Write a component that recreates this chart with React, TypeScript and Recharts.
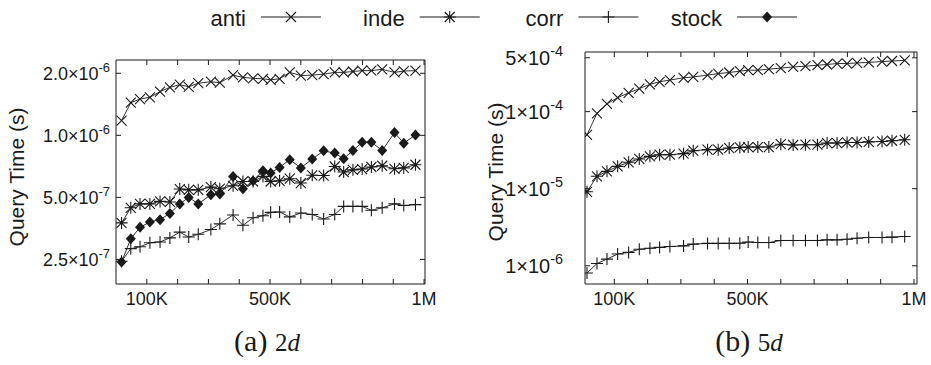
import React from "react";
import { LineChart, Line, XAxis, YAxis } from "recharts";

// dataset sizes (in thousands of objects)
const sizesK = [
  18, 48, 78, 110, 143, 175, 207, 236, 267, 308, 337, 380, 412, 445, 477,
  502, 531, 564, 600, 637, 674, 710, 739, 769, 799, 829, 864, 904, 934, 972,
];

// (a) 2d query times, seconds
const anti2d = [
  1.18e-6, 1.44e-6, 1.5e-6, 1.53e-6, 1.63e-6, 1.71e-6, 1.76e-6, 1.72e-6, 1.79e-6, 1.82e-6,
  1.8e-6, 1.96e-6, 1.91e-6, 1.89e-6, 1.88e-6, 1.86e-6, 1.88e-6, 2.02e-6, 1.95e-6, 1.96e-6,
  1.98e-6, 2.02e-6, 2.02e-6, 2.04e-6, 2.06e-6, 2.06e-6, 2.09e-6, 2.02e-6, 2.05e-6, 2.06e-6,
];
const inde2d = [
  3.76e-7, 4.45e-7, 4.65e-7, 4.65e-7, 4.78e-7, 4.75e-7, 5.49e-7, 5.44e-7, 5.44e-7, 5.61e-7,
  5.51e-7, 5.69e-7, 5.97e-7, 5.97e-7, 6.32e-7, 5.97e-7, 6.02e-7, 6.16e-7, 5.87e-7, 6.4e-7,
  6.38e-7, 7.06e-7, 6.64e-7, 6.8e-7, 6.86e-7, 7.02e-7, 7.12e-7, 6.88e-7, 6.95e-7, 7.2e-7,
];
const corr2d = [
  2.45e-7, 2.82e-7, 2.88e-7, 3.01e-7, 3.04e-7, 3.18e-7, 3.39e-7, 3.21e-7, 3.31e-7, 3.49e-7,
  3.72e-7, 4.11e-7, 3.66e-7, 3.98e-7, 4.07e-7, 4.23e-7, 4.25e-7, 4.02e-7, 4.2e-7, 4.13e-7,
  3.93e-7, 4.13e-7, 4.52e-7, 4.52e-7, 4.52e-7, 4.33e-7, 4.45e-7, 4.65e-7, 4.57e-7, 4.61e-7,
];
const stock2d = [
  2.43e-7, 3.15e-7, 3.58e-7, 3.8e-7, 3.9e-7, 4.18e-7, 4.65e-7, 5.0e-7, 4.65e-7, 5.15e-7,
  5.19e-7, 6.32e-7, 5.51e-7, 6.02e-7, 6.74e-7, 6.57e-7, 6.99e-7, 7.62e-7, 6.95e-7, 7.67e-7,
  8.41e-7, 8.2e-7, 7.7e-7, 8.44e-7, 9.26e-7, 9.26e-7, 8.44e-7, 1.031e-6, 9.16e-7, 1.005e-6,
];

// (b) 5d query times, seconds
const anti5d = [
  5.0e-5, 9.5e-5, 1.26e-4, 1.52e-4, 1.75e-4, 1.99e-4, 2.26e-4, 2.44e-4, 2.57e-4, 2.75e-4,
  2.82e-4, 2.98e-4, 3.12e-4, 3.22e-4, 3.35e-4, 3.45e-4, 3.45e-4, 3.56e-4, 3.67e-4, 3.8e-4,
  3.89e-4, 4.0e-4, 4.09e-4, 4.21e-4, 4.21e-4, 4.29e-4, 4.35e-4, 4.47e-4, 4.54e-4, 4.62e-4,
];
const inde5d = [
  9.12e-6, 1.45e-5, 1.68e-5, 1.95e-5, 2.2e-5, 2.43e-5, 2.63e-5, 2.76e-5, 2.76e-5, 2.85e-5,
  3.11e-5, 3.21e-5, 3.21e-5, 3.37e-5, 3.43e-5, 3.47e-5, 3.47e-5, 3.47e-5, 3.78e-5, 3.69e-5,
  3.72e-5, 3.72e-5, 3.91e-5, 3.91e-5, 3.98e-5, 3.98e-5, 4.05e-5, 4.1e-5, 4.19e-5, 4.31e-5,
];
const corr5d = [
  8.05e-7, 1.07e-6, 1.22e-6, 1.42e-6, 1.49e-6, 1.64e-6, 1.69e-6, 1.73e-6, 1.78e-6, 1.81e-6,
  1.91e-6, 1.95e-6, 1.95e-6, 1.95e-6, 1.96e-6, 2.03e-6, 2.0e-6, 2.0e-6, 2.13e-6, 2.13e-6,
  2.13e-6, 2.13e-6, 2.17e-6, 2.17e-6, 2.21e-6, 2.28e-6, 2.33e-6, 2.33e-6, 2.35e-6, 2.4e-6,
];

// axis ticks
const xTicks = [100, 200, 300, 400, 500, 600, 700, 800, 900, 1000];
const xTickLabels: Record<number, string> = { 100: "100K", 500: "500K", 1000: "1M" };
const yTicks2d = [2.5e-7, 5e-7, 1e-6, 2e-6];
const yTicks5d = [1e-6, 1e-5, 1e-4, 5e-4];

const seriesNames = ["anti", "inde", "corr", "stock"];
const seriesShapes = ["cross", "star", "plus", "diamond"];

const INK = "#1a1a1a";
const SANS = "'Liberation Sans', Arial, Helvetica, sans-serif";
const SERIF = "'Liberation Serif', 'Times New Roman', serif";

const rows2d = sizesK.map((size, i) => ({
  size,
  anti: anti2d[i],
  inde: inde2d[i],
  corr: corr2d[i],
  stock: stock2d[i],
}));
const rows5d = sizesK.map((size, i) => ({
  size,
  anti: anti5d[i],
  inde: inde5d[i],
  corr: corr5d[i],
}));

const MarkShape = ({ cx, cy, shape }: { cx?: number; cy?: number; shape: string }) => {
  if (cx == null || cy == null || isNaN(cx) || isNaN(cy)) return null;
  const s = 5;
  if (shape === "cross") {
    return (
      <path
        d={`M${cx - s},${cy - s}L${cx + s},${cy + s}M${cx - s},${cy + s}L${cx + s},${cy - s}`}
        stroke={INK}
        strokeWidth={1.1}
        fill="none"
      />
    );
  }
  if (shape === "star") {
    return (
      <path
        d={`M${cx - s},${cy - s}L${cx + s},${cy + s}M${cx - s},${cy + s}L${cx + s},${cy - s}M${cx},${cy - 6}L${cx},${cy + 6}M${cx - 6},${cy}L${cx + 6},${cy}`}
        stroke={INK}
        strokeWidth={1.1}
        fill="none"
      />
    );
  }
  if (shape === "plus") {
    return (
      <path
        d={`M${cx - 6},${cy}L${cx + 6},${cy}M${cx},${cy - 6}L${cx},${cy + 6}`}
        stroke={INK}
        strokeWidth={1.1}
        fill="none"
      />
    );
  }
  return (
    <path d={`M${cx},${cy - 5.5}L${cx + 5},${cy}L${cx},${cy + 5.5}L${cx - 5},${cy}Z`} fill={INK} />
  );
};

const dotFor = (shape: string) => (p: any) =>
  <MarkShape key={`${shape}-${p.index}`} cx={p.cx} cy={p.cy} shape={shape} />;

const BottomTick = (props: any) => {
  const { x, y, payload } = props;
  const label = xTickLabels[payload.value];
  return (
    <g>
      <line x1={x} x2={x} y1={y} y2={y - 5} stroke={INK} />
      {label && (
        <text x={x} y={y + 21} textAnchor="middle" fontSize={18} fontFamily={SANS} fill={INK}>
          {label}
        </text>
      )}
    </g>
  );
};

const TopTick = (props: any) => {
  const { x, y } = props;
  return <line x1={x} x2={x} y1={y} y2={y + 5} stroke={INK} />;
};

const RightTick = (props: any) => {
  const { x, y } = props;
  return <line x1={x} x2={x - 5} y1={y} y2={y} stroke={INK} />;
};

const makeLeftTick = (gap: number, digits: number, size: number) => (props: any) => {
  const { x, y, payload } = props;
  const v = payload.value as number;
  const e = Math.floor(Math.log10(v) + 1e-9);
  const m = v / Math.pow(10, e);
  return (
    <g>
      <line x1={x} x2={x + 5} y1={y} y2={y} stroke={INK} />
      <text x={x - gap} y={y + size * 0.36} textAnchor="end" fontSize={size} fontFamily={SANS} fill={INK}>
        {m.toFixed(digits)}×10
        <tspan dy={-size * 0.45} fontSize={size * 0.72}>
          {"-" + String(-e)}
        </tspan>
      </text>
    </g>
  );
};

const AxisTitle = ({ px, py }: { px: number; py: number }) => (
  <text
    x={px}
    y={py}
    transform={`rotate(-90 ${px} ${py})`}
    textAnchor="middle"
    dominantBaseline="central"
    fontSize={21}
    fontFamily={SANS}
    fill={INK}
  >
    Query Time (s)
  </text>
);

const Legend = () => (
  <svg width={931} height={40} style={{ position: "absolute", left: 0, top: 0 }}>
    {seriesNames.map((name, i) => {
      const c = 291 + i * 158.7;
      return (
        <g key={name}>
          <text x={c - 45} y={26} textAnchor="end" fontSize={22} fontFamily={SANS} fill={INK}>
            {name}
          </text>
          <line x1={c - 30} x2={c + 30} y1={17} y2={17} stroke={INK} strokeWidth={1.1} />
          <MarkShape cx={c} cy={17} shape={seriesShapes[i]} />
        </g>
      );
    })}
  </svg>
);

const Caption = ({ cx, tag, dim }: { cx: number; tag: string; dim: string }) => (
  <svg width={200} height={45} style={{ position: "absolute", left: cx - 100, top: 320 }}>
    <text x={100} y={31} textAnchor="middle" fontFamily={SERIF} fill={INK}>
      <tspan fontSize={30}>({tag}) </tspan>
      <tspan fontSize={25}>{dim}</tspan>
      <tspan fontSize={25} fontStyle="italic">d</tspan>
    </text>
  </svg>
);

const Panel = ({
  rows,
  keys,
  yTicks,
  yDomain,
  xDomain,
  width,
  margin,
  tickGap,
  tickFont,
  digits,
  titleX,
  titleY,
}: any) => {
  const LeftTick = makeLeftTick(tickGap, digits, tickFont);
  return (
    <LineChart width={width} height={320} data={rows} margin={margin}>
      <XAxis
        dataKey="size"
        type="number"
        domain={xDomain}
        allowDataOverflow
        ticks={xTicks}
        interval={0}
        height={30}
        tickSize={0}
        tickMargin={0}
        tickLine={false}
        axisLine={{ stroke: INK }}
        tick={BottomTick}
      />
      <XAxis
        xAxisId="top"
        orientation="top"
        dataKey="size"
        type="number"
        domain={xDomain}
        allowDataOverflow
        ticks={xTicks}
        interval={0}
        height={1}
        tickSize={0}
        tickMargin={0}
        tickLine={false}
        axisLine={{ stroke: INK }}
        tick={TopTick}
      />
      <YAxis
        scale="log"
        type="number"
        domain={yDomain}
        allowDataOverflow
        ticks={yTicks}
        interval={0}
        width={100}
        tickSize={0}
        tickMargin={0}
        tickLine={false}
        axisLine={{ stroke: INK }}
        tick={LeftTick}
        label={<AxisTitle px={titleX} py={titleY} />}
      />
      <YAxis
        yAxisId="right"
        orientation="right"
        scale="log"
        type="number"
        domain={yDomain}
        allowDataOverflow
        ticks={yTicks}
        interval={0}
        width={1}
        tickSize={0}
        tickMargin={0}
        tickLine={false}
        axisLine={{ stroke: INK }}
        tick={RightTick}
      />
      {keys.map((k: string) => (
        <Line
          key={k}
          dataKey={k}
          stroke="#333"
          strokeWidth={1}
          dot={dotFor(seriesShapes[seriesNames.indexOf(k)])}
          activeDot={false}
          isAnimationActive={false}
        />
      ))}
    </LineChart>
  );
};

export default function App() {
  return (
    <div
      style={{
        position: "absolute",
        left: 0,
        top: 0,
        width: 931,
        height: 365,
        background: "#fff",
        overflow: "hidden",
      }}
    >
      <Legend />
      <div style={{ position: "absolute", left: 0, top: 0 }}>
        <Panel
          rows={rows2d}
          keys={["anti", "inde", "corr", "stock"]}
          yTicks={yTicks2d}
          yDomain={[1.9e-7, 2.32e-6]}
          xDomain={[0, 1003]}
          width={460}
          margin={{ top: 59, right: 34, bottom: 6, left: 16 }}
          tickGap={6}
          tickFont={18}
          digits={1}
          titleX={16}
          titleY={177}
        />
      </div>
      <div style={{ position: "absolute", left: 466, top: 0 }}>
        <Panel
          rows={rows5d}
          keys={["anti", "inde", "corr"]}
          yTicks={yTicks5d}
          yDomain={[5.8e-7, 5.94e-4]}
          xDomain={[12, 1009]}
          width={465}
          margin={{ top: 51, right: 13, bottom: 6, left: 19 }}
          tickGap={22}
          tickFont={20}
          digits={0}
          titleX={29}
          titleY={172}
        />
      </div>
      <Caption cx={267} tag="a" dim="2" />
      <Caption cx={749} tag="b" dim="5" />
    </div>
  );
}
